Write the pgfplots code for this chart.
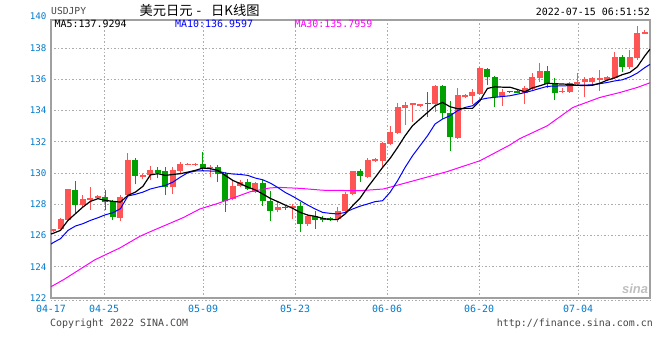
\documentclass[border=0pt]{standalone}
\usepackage{pgfplots}
\pgfplotsset{compat=1.18}
\usepackage{pgfplotstable}
\usepackage{fontspec}
\setmainfont{DejaVu Sans Mono}
\setmonofont{DejaVu Sans Mono}
\newfontfamily\cjk{Noto Sans CJK SC}
\newfontfamily\logofont{Liberation Sans}

\definecolor{upred}{RGB}{255,84,84}
\definecolor{dngreen}{RGB}{0,160,0}
\definecolor{tickblue}{RGB}{0,122,204}
\definecolor{framec}{RGB}{160,160,160}
\definecolor{gridc}{RGB}{172,172,172}
\definecolor{ma30c}{RGB}{255,0,255}
\definecolor{textgray}{RGB}{70,70,70}

% daily candles: index, open, high, low, close
\pgfplotstableread{
i o h l c
0 126.29 126.45 126.25 126.42
1 126.44 127.14 126.40 127.08
2 127.01 129.00 126.95 128.96
3 128.94 129.47 127.36 127.93
4 127.93 128.57 127.83 128.36
5 128.27 129.10 127.65 128.42
6 128.42 128.61 128.36 128.55
7 128.49 128.89 127.61 128.14
8 128.19 128.25 126.97 127.16
9 127.14 128.61 126.91 128.49
10 128.57 131.26 128.53 130.85
11 130.83 130.96 129.28 129.81
12 129.77 129.91 129.59 129.85
13 129.85 130.43 129.53 130.21
14 130.19 130.38 129.66 130.00
15 130.15 130.38 128.57 129.10
16 129.08 130.38 128.68 130.21
17 130.15 130.70 129.96 130.60
18 130.53 130.62 130.50 130.60
19 130.49 130.64 130.45 130.60
20 130.60 131.34 130.11 130.32
21 130.32 130.51 129.75 130.38
22 130.40 130.49 129.45 129.91
23 129.96 130.06 127.51 128.19
24 128.36 129.53 128.25 129.19
25 129.17 129.53 129.10 129.40
26 129.40 129.64 128.89 129.00
27 128.80 129.40 128.72 129.36
28 129.36 129.57 127.91 128.23
29 128.23 128.87 126.95 127.59
30 127.65 128.23 127.49 127.85
31 127.80 127.91 127.65 127.78
32 127.76 128.02 127.06 127.91
33 127.87 128.12 126.21 126.74
34 126.74 127.38 126.63 127.27
35 127.27 127.59 126.42 126.99
36 127.12 127.23 126.84 126.99
37 127.12 127.16 126.95 126.97
38 127.06 127.80 126.84 127.59
39 127.59 128.76 127.48 128.66
40 128.66 130.15 128.59 130.11
41 130.11 130.26 129.45 129.83
42 129.72 130.94 129.66 130.83
43 130.79 130.94 130.70 130.87
44 130.79 131.96 130.36 131.92
45 131.86 132.99 131.79 132.65
46 132.56 134.48 132.50 134.20
47 134.16 134.52 133.07 134.37
48 134.37 134.48 133.24 134.46
49 134.27 134.45 134.20 134.42
50 134.44 135.16 133.56 134.40
51 134.42 135.65 133.88 135.59
52 135.59 135.63 133.46 133.82
53 133.84 134.63 131.43 132.28
54 132.22 135.44 132.18 134.99
55 134.84 135.05 134.78 134.99
56 134.95 135.37 134.41 135.16
57 135.05 136.76 135.01 136.70
58 136.65 136.70 135.61 136.12
59 136.16 136.23 134.20 134.86
60 134.89 135.40 134.31 135.20
61 135.18 135.22 135.12 135.16
62 135.27 135.30 135.10 135.13
63 135.14 135.55 134.45 135.43
64 135.37 136.42 135.27 136.12
65 136.09 137.06 135.80 136.55
66 136.55 136.87 135.42 135.70
67 135.70 136.06 134.69 135.12
68 135.16 135.42 135.12 135.27
69 135.20 135.80 135.12 135.76
70 135.70 136.40 135.59 135.84
71 135.80 136.12 134.88 136.02
72 135.80 136.12 135.63 136.06
73 135.95 136.61 135.27 136.06
74 135.97 136.19 135.91 136.12
75 136.06 137.76 136.02 137.44
76 137.44 137.55 136.44 136.80
77 136.80 137.87 136.65 137.44
78 137.34 139.43 137.25 138.96
79 138.92 139.15 138.89 139.04
}\candles

\pgfplotstableread{
i v
-0.27 126.10
0 126.14
1 126.33
2 126.97
3 127.40
4 127.83
5 128.19
6 128.36
7 128.25
8 128.19
9 128.14
10 128.57
11 128.78
12 129.15
13 129.88
14 129.96
15 129.85
16 129.91
17 129.96
18 130.06
19 130.17
20 130.32
21 130.28
22 130.17
23 129.85
24 129.53
25 129.32
26 129.10
27 128.92
28 128.66
29 128.38
30 128.17
31 127.95
32 127.74
33 127.48
34 127.31
35 127.23
36 127.10
37 127.02
38 127.02
39 127.38
40 127.91
41 128.40
42 129.09
43 129.72
44 130.36
45 130.94
46 131.64
47 132.39
48 133.03
49 133.46
50 133.88
51 134.31
52 134.52
53 134.25
54 134.12
55 134.14
56 134.14
57 134.63
58 135.42
59 135.52
60 135.50
61 135.50
62 135.35
63 135.20
64 135.45
65 135.59
66 135.75
67 135.72
68 135.70
69 135.68
70 135.62
71 135.60
72 135.62
73 135.75
74 135.95
75 136.10
76 136.30
77 136.44
78 136.80
79 137.50
79.7 137.93
}\mafive

\pgfplotstableread{
i v
-0.27 125.45
0 125.54
1 125.80
2 126.33
3 126.61
4 126.76
5 126.97
6 127.14
7 127.33
8 127.46
9 127.72
10 128.53
11 128.64
12 128.78
13 128.98
14 129.10
15 129.21
16 129.42
17 129.74
18 130.02
19 130.13
20 130.15
21 130.13
22 130.13
23 130.00
24 129.94
25 129.91
26 129.85
27 129.68
28 129.57
29 129.36
30 129.08
31 128.76
32 128.51
33 128.23
34 127.95
35 127.70
36 127.48
37 127.42
38 127.38
39 127.48
40 127.70
41 127.88
42 128.02
43 128.17
44 128.23
45 128.77
46 129.51
47 130.36
48 131.11
49 131.75
50 132.39
51 133.14
52 133.46
53 133.67
54 133.99
55 134.20
56 134.31
57 134.70
58 134.80
59 134.85
60 134.90
61 134.95
62 135.05
63 135.15
64 135.28
65 135.42
66 135.55
67 135.57
68 135.58
69 135.60
70 135.62
71 135.63
72 135.65
73 135.72
74 135.80
75 135.90
76 135.97
77 136.15
78 136.40
79 136.75
79.7 136.96
}\maten

\pgfplotstableread{
i v
-0.27 122.72
1.5 123.20
5.6 124.45
8.9 125.20
11.6 125.95
13 126.25
17.4 127.15
19.6 127.70
21.9 128.04
24.0 128.40
26.3 128.80
29.0 129.05
30.3 129.08
33.0 129.02
36.0 128.90
41.0 128.87
44.1 128.98
48.1 129.50
52.6 130.09
57.0 130.79
61.0 131.80
62.3 132.20
66.0 133.03
69.4 134.20
73.0 134.84
75.7 135.16
78.0 135.48
79.7 135.78
}\mathirty

\begin{document}
\begin{tikzpicture}
\begin{axis}[
    name=ax,
    scale only axis,
    width=599bp, height=278bp,
    xmin=-0.27, xmax=79.7,
    ymin=122, ymax=139.8,
    axis line style={draw=framec, line width=1.2bp},
    major tick length=0pt,
    ytick={124,126,...,138},
    extra y ticks={122},
    extra y tick style={grid=none},
    xtick={6.81,20.03,32.31,44.59,56.88,70.09},
    xticklabels={04-25,05-09,05-23,06-06,06-20,07-04},
    extra x ticks={-0.27},
    extra x tick labels={04-17},
    extra x tick style={grid=none},
    xmajorgrids, ymajorgrids,
    major grid style={draw=gridc, line width=1bp, dash pattern=on 1.5bp off 2bp},
    /pgf/number format/assume math mode=true,
    yticklabel style={font=\fontsize{9.2}{10}\selectfont, text=tickblue, inner sep=0pt, xshift=-4.3bp},
    xticklabel style={font=\fontsize{10}{11}\selectfont, text=tickblue, inner sep=0pt, yshift=-7bp},
]
% wicks
\addplot[draw=none, mark=none, forget plot,
    x filter/.expression={\thisrow{c}>=\thisrow{o} ? x : nan},
    error bars/.cd, y dir=plus, y explicit, error mark=none,
    error bar style={draw=upred, line width=1bp}]
    table[x=i, y=l, y error expr=\thisrow{h}-\thisrow{l}] {\candles};
\addplot[draw=none, mark=none, forget plot,
    x filter/.expression={\thisrow{c}<\thisrow{o} ? x : nan},
    error bars/.cd, y dir=plus, y explicit, error mark=none,
    error bar style={draw=dngreen, line width=1bp}]
    table[x=i, y=l, y error expr=\thisrow{h}-\thisrow{l}] {\candles};
% bodies
\addplot[draw=none, mark=none, forget plot,
    x filter/.expression={\thisrow{c}>=\thisrow{o} ? x : nan},
    error bars/.cd, y dir=plus, y explicit, error mark=none,
    error bar style={draw=upred, line width=6bp}]
    table[x=i, y expr={min(\thisrow{o},\thisrow{c})},
          y error expr={max(abs(\thisrow{c}-\thisrow{o}),0.07)}] {\candles};
\addplot[draw=none, mark=none, forget plot,
    x filter/.expression={\thisrow{c}<\thisrow{o} ? x : nan},
    error bars/.cd, y dir=plus, y explicit, error mark=none,
    error bar style={draw=dngreen, line width=6bp}]
    table[x=i, y expr={min(\thisrow{o},\thisrow{c})},
          y error expr={max(abs(\thisrow{c}-\thisrow{o}),0.07)}] {\candles};
% moving averages
\addplot[ma30c, line width=1bp, mark=none] table[x=i, y=v] {\mathirty};
\addplot[blue, line width=1bp, mark=none] table[x=i, y=v] {\maten};
\addplot[black, line width=1.2bp, mark=none] table[x=i, y=v] {\mafive};
\end{axis}

\begin{scope}[shift={(ax.south west)}, x=1bp, y=-1bp, shift={(-51,-298)}]
  \node[anchor=east, inner sep=0pt, text=tickblue, font=\fontsize{9.2}{10}\selectfont] at (46.7,16) {140};
  \node[anchor=west, inner sep=0pt, text=textgray, font=\fontsize{9.7}{10}\selectfont] at (51,11) {USDJPY};
  \node[anchor=west, inner sep=0pt, font=\cjk\fontsize{13.3}{14}\selectfont] at (139.5,10.5) {美元日元\hspace{0.3em}-\hspace{0.75em}日K线图};
  \node[anchor=east, inner sep=0pt, font=\fontsize{10}{11}\selectfont] at (650,12.2) {2022-07-15 06:51:52};
  \node[anchor=west, inner sep=0pt, font=\fontsize{10}{11}\selectfont] at (54.5,24.3) {MA5:137.9294};
  \node[anchor=west, inner sep=0pt, text=blue, font=\fontsize{10}{11}\selectfont] at (175,24.3) {MA10:136.9597};
  \node[anchor=west, inner sep=0pt, text=ma30c, font=\fontsize{10}{11}\selectfont] at (294.3,24.3) {MA30:135.7959};
  \draw[gridc, line width=1bp, dash pattern=on 1.5bp off 2bp] (51,300) -- (650,300);
  \node[anchor=west, inner sep=0pt, text=textgray, font=\fontsize{10}{11}\selectfont] at (50,323.5) {Copyright 2022 SINA.COM};
  \node[anchor=east, inner sep=0pt, text=textgray, font=\fontsize{10}{11}\selectfont] at (653,323.5) {http://finance.sina.com.cn};
  \node[inner sep=0pt, text=gray!50, font=\logofont\bfseries\itshape\fontsize{13}{13}\selectfont] at (635,289) {sina};
  \pgfresetboundingbox
  \path[use as bounding box] (0,0) rectangle (660,360);
\end{scope}
\end{tikzpicture}
\end{document}
